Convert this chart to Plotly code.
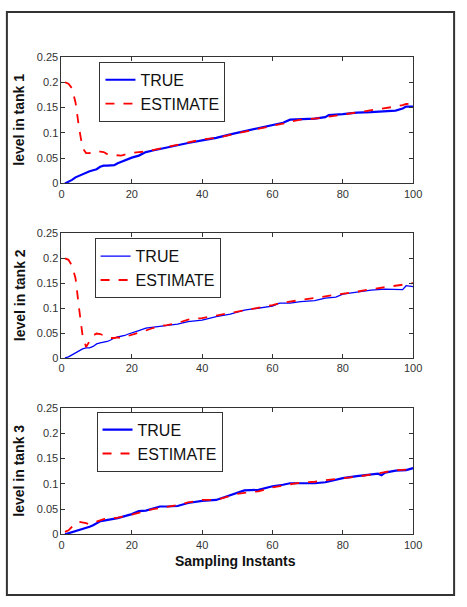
import plotly.graph_objects as go

# ---------------- data ----------------
xs = [1, 2, 3, 4, 5, 6, 7, 8, 9, 10, 11, 12, 13, 14, 15, 16, 17, 18, 19, 20,
      22, 24, 26, 28, 30, 33, 36, 40, 44, 48, 52, 56, 60, 63, 65, 68, 72, 75,
      76, 80, 84, 88, 92, 95, 97, 98, 100]

tank1_true = [0, 0.003, 0.007, 0.012, 0.015, 0.018, 0.022, 0.024, 0.026, 0.028,
              0.033, 0.035, 0.035, 0.035, 0.036, 0.040, 0.043, 0.046, 0.049, 0.051,
              0.055, 0.062, 0.065, 0.068, 0.072, 0.076, 0.080, 0.085, 0.090, 0.097,
              0.103, 0.108, 0.114, 0.120, 0.126, 0.127, 0.128, 0.131, 0.135, 0.137,
              0.140, 0.141, 0.142, 0.144, 0.148, 0.152, 0.152]
tank1_est = [0.200, 0.197, 0.188, 0.160, 0.110, 0.070, 0.060, 0.060, 0.063, 0.064,
             0.063, 0.062, 0.058, 0.056, 0.056, 0.055, 0.055, 0.057, 0.059, 0.060,
             0.062, 0.063, 0.066, 0.069, 0.072, 0.077, 0.081, 0.087, 0.090, 0.096,
             0.103, 0.108, 0.114, 0.118, 0.122, 0.126, 0.128, 0.130, 0.132, 0.136,
             0.140, 0.145, 0.148, 0.152, 0.155, 0.157, 0.158]

xs2 = [1, 2, 3, 4, 5, 6, 7, 8, 9, 10, 11, 12, 13, 14, 15, 16, 17, 18, 19, 20,
       22, 24, 26, 28, 30, 33, 36, 40, 44, 48, 52, 56, 60, 62, 65, 68, 72, 75,
       78, 80, 84, 88, 92, 95, 97, 98, 100]
tank2_true = [0, 0.002, 0.006, 0.010, 0.015, 0.018, 0.020, 0.020, 0.023, 0.028,
              0.030, 0.031, 0.033, 0.036, 0.040, 0.042, 0.043, 0.045, 0.048, 0.050,
              0.055, 0.060, 0.062, 0.063, 0.065, 0.068, 0.073, 0.076, 0.083, 0.088,
              0.096, 0.100, 0.104, 0.110, 0.110, 0.113, 0.115, 0.120, 0.122, 0.128,
              0.132, 0.136, 0.138, 0.138, 0.137, 0.145, 0.143]
tank2_est = [0.200, 0.197, 0.185, 0.160, 0.100, 0.045, 0.022, 0.035, 0.045, 0.049,
             0.048, 0.045, 0.042, 0.040, 0.040, 0.041, 0.040, 0.042, 0.045, 0.047,
             0.051, 0.055, 0.060, 0.064, 0.066, 0.070, 0.077, 0.080, 0.085, 0.090,
             0.095, 0.100, 0.106, 0.110, 0.113, 0.117, 0.120, 0.124, 0.126, 0.128,
             0.133, 0.138, 0.142, 0.144, 0.146, 0.147, 0.150]

xs3 = [1, 2, 3, 4, 5, 6, 7, 8, 9, 10, 11, 12, 13, 14, 15, 16, 17, 18, 19, 20,
       22, 24, 26, 28, 30, 33, 36, 40, 44, 48, 50, 52, 56, 60, 63, 65, 68, 72,
       75, 78, 80, 84, 88, 90, 91, 92, 95, 98, 100]
tank3_true = [0, 0.002, 0.005, 0.007, 0.009, 0.011, 0.013, 0.015, 0.018, 0.022,
              0.026, 0.027, 0.028, 0.029, 0.030, 0.032, 0.034, 0.036, 0.038, 0.040,
              0.046, 0.047, 0.051, 0.055, 0.055, 0.056, 0.062, 0.066, 0.068, 0.078,
              0.083, 0.087, 0.088, 0.095, 0.098, 0.101, 0.101, 0.101, 0.103, 0.108,
              0.111, 0.115, 0.118, 0.120, 0.117, 0.122, 0.126, 0.127, 0.131]
tank3_est = [0.005, 0.008, 0.015, 0.022, 0.025, 0.024, 0.022, 0.020, 0.021, 0.025,
             0.028, 0.030, 0.031, 0.031, 0.032, 0.033, 0.034, 0.036, 0.037, 0.039,
             0.043, 0.047, 0.050, 0.052, 0.054, 0.058, 0.063, 0.068, 0.068, 0.077,
             0.080, 0.082, 0.085, 0.093, 0.097, 0.099, 0.102, 0.104, 0.107, 0.109,
             0.111, 0.114, 0.118, 0.120, 0.122, 0.123, 0.127, 0.128, 0.131]

x_ticks = [0, 20, 40, 60, 80, 100]
y_ticks = [0, 0.05, 0.1, 0.15, 0.2, 0.25]
y_tick_text = ["0", "0.05", "0.1", "0.15", "0.2", "0.25"]
y_titles = ["level in tank 1", "level in tank 2", "level in tank 3"]
x_title = "Sampling Instants"
names = ["TRUE", "ESTIMATE"]

# ---------------- layout geometry (pixels) ----------------
W, H = 467, 607
panels = [  # left, right, top, bottom
    (60, 421, 52, 181),
    (60, 421, 232, 359),
    (60, 421, 410, 539),
]
legend_pos = [(99, 57), (94, 237), (96, 414)]
true_widths = [2.2, 1.3, 2.2]

fig = go.Figure()
series = [(xs, tank1_true, tank1_est), (xs2, tank2_true, tank2_est), (xs3, tank3_true, tank3_est)]
for i, (xx, yt, ye) in enumerate(series):
    ax = "" if i == 0 else str(i + 1)
    leg = "legend" if i == 0 else f"legend{i + 1}"
    fig.add_trace(go.Scatter(x=xx, y=yt, mode="lines", name=names[0],
                             line=dict(color="#0000FF", width=true_widths[i]),
                             xaxis="x" + ax, yaxis="y" + ax, legend=leg))
    fig.add_trace(go.Scatter(x=xx, y=ye, mode="lines", name=names[1],
                             line=dict(color="#FF0000", width=1.8, dash="dash"),
                             xaxis="x" + ax, yaxis="y" + ax, legend=leg))

layout = dict(width=W, height=H, margin=dict(l=0, r=0, t=0, b=0),
              paper_bgcolor="white", plot_bgcolor="white", showlegend=True,
              font=dict(family="Liberation Sans, Arial", color="#222"))
annotations = []
for i, (l, r, t, b) in enumerate(panels):
    ax = "" if i == 0 else str(i + 1)
    common = dict(showgrid=False, zeroline=False, showline=True, linecolor="#333",
                  linewidth=1, mirror="ticks", ticks="inside", ticklen=4,
                  tickcolor="#333", tickfont=dict(size=11, color="#333"))
    layout["xaxis" + ax] = dict(domain=[l / W, r / W], range=[0, 100], tickvals=x_ticks,
                                anchor="y" + ax, **common)
    layout["yaxis" + ax] = dict(domain=[1 - b / H, 1 - t / H], range=[0, 0.25],
                                tickvals=y_ticks, ticktext=y_tick_text,
                                anchor="x" + ax, **common)
    lx, ly = legend_pos[i]
    layout["legend" if i == 0 else f"legend{i + 1}"] = dict(
        x=lx / W, y=1 - ly / H, xanchor="left", yanchor="top", xref="paper", yref="paper",
        bgcolor="white", bordercolor="#333", borderwidth=1, itemwidth=30,
        font=dict(size=16, color="#111", family="Liberation Sans, Arial"))
    annotations.append(dict(text="<b>" + y_titles[i] + "</b>", textangle=-90,
                            x=17 / W, y=1 - (t + b) / 2 / H,
                            xanchor="center", yanchor="middle",
                            xref="paper", yref="paper", showarrow=False,
                            font=dict(size=14, color="#111")))
annotations.append(dict(text="<b>" + x_title + "</b>", x=239 / W, y=1 - 566 / H,
                        xanchor="center", yanchor="middle",
                        xref="paper", yref="paper",
                        showarrow=False, font=dict(size=14, color="#111")))
layout["annotations"] = annotations
layout["shapes"] = [dict(type="rect", xref="paper", yref="paper",
                         x0=4 / W, x1=463 / W, y0=1 - 601 / H, y1=1 - 6 / H,
                         line=dict(color="#333", width=2))]
fig.update_layout(**layout)
fig.write_html("out.html")
